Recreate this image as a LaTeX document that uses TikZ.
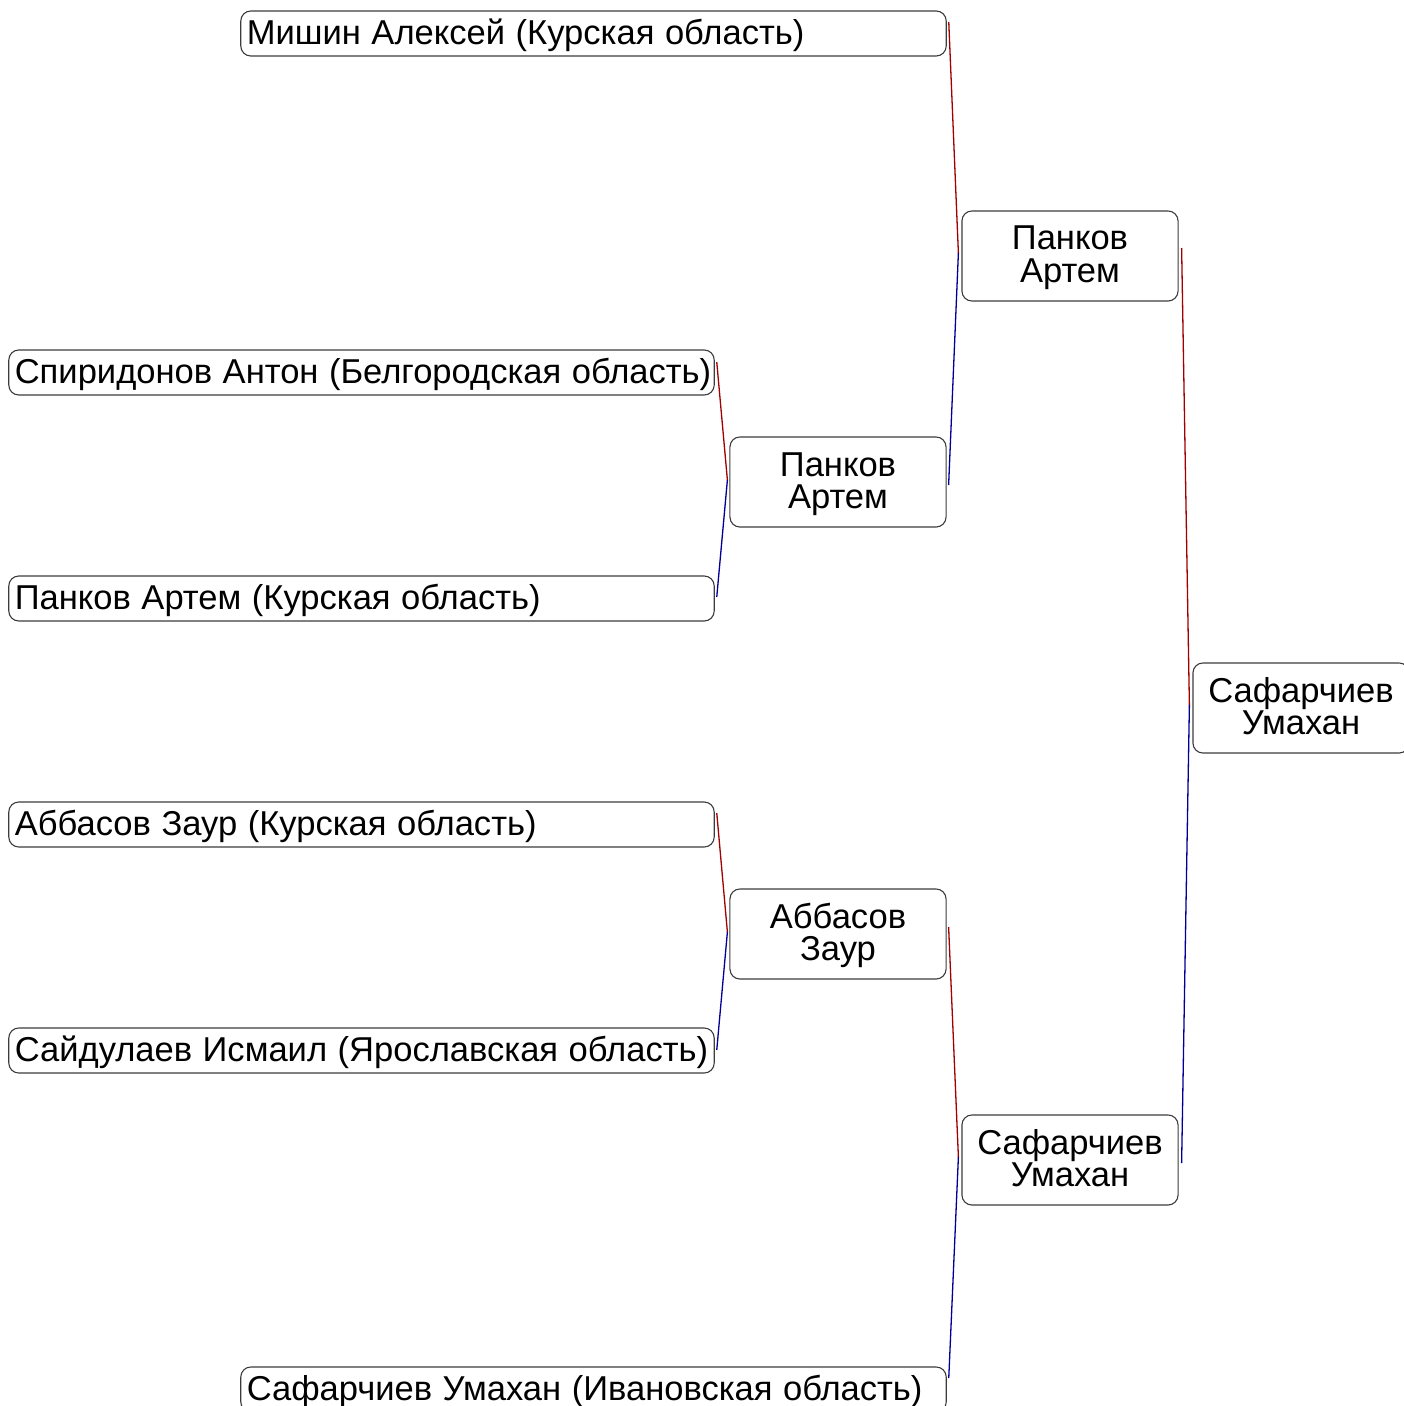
\documentclass[tikz,border=0pt]{standalone}
\usepackage{fontspec}
\setmainfont[WordSpace=1.1]{Liberation Sans}
\definecolor{boxgray}{RGB}{60,60,60}
\definecolor{winred}{RGB}{160,0,0}
\definecolor{loseblue}{RGB}{0,0,150}
\newcommand{\entrytext}[1]{\makebox[6.93cm][l]{#1}}
\begin{document}
\begin{tikzpicture}[x=0.01cm,y=-0.01cm,
  base/.style={draw=boxgray, line width=0.011cm, rounded corners=0.1cm, inner sep=0pt,
    font=\fontsize{9.82pt}{9.1pt}\selectfont},
  entrant/.style={base, minimum width=7.05cm, minimum height=0.45cm,
    text height=0.27cm, text depth=0.054cm},
  winner/.style={base, minimum width=2.16cm, minimum height=0.9cm,
    text width=2.1cm, align=center, text height=0.26cm, text depth=0.38cm},
  redline/.style={draw=winred, line width=0.013cm},
  blueline/.style={draw=loseblue, line width=0.013cm}]
\useasboundingbox (0,0) rectangle (1404,1406);
\clip (0,0) rectangle (1404,1406);
% first round entrants
\node[entrant] (m1) at (593.5,33.5) {\entrytext{Мишин Алексей (Курская область)}};
\node[entrant] (s1) at (361.5,372.5) {\entrytext{Спиридонов Антон (Белгородская область)}};
\node[entrant] (pl) at (361.5,598.5) {\entrytext{Панков Артем (Курская область)}};
\node[entrant] (al) at (361.5,824.5) {\entrytext{Аббасов Заур (Курская область)}};
\node[entrant] (sl) at (361.5,1050.5) {\entrytext{Сайдулаев Исмаил (Ярославская область)}};
\node[entrant] (sb) at (593.5,1389.5) {\entrytext{Сафарчиев Умахан (Ивановская область)}};
% winners
\node[winner] (r2a) at (838,482) {Панков\\Артем};
\node[winner] (r2b) at (838,934) {Аббасов\\Заур};
\node[winner] (r3a) at (1070,256) {Панков\\Артем};
\node[winner] (r3b) at (1070,1160) {Сафарчиев\\Умахан};
\node[winner] (fin) at (1301,708) {Сафарчиев\\Умахан};
% connectors
\draw[redline] ([xshift=0.02cm,yshift=0.105cm]s1.east) -- ([xshift=-0.02cm,yshift=0.02cm]r2a.west);
\draw[blueline] ([xshift=0.02cm,yshift=0.015cm]pl.east) -- ([xshift=-0.02cm,yshift=0.02cm]r2a.west);
\draw[redline] ([xshift=0.02cm,yshift=0.115cm]al.east) -- ([xshift=-0.02cm,yshift=0.02cm]r2b.west);
\draw[blueline] ([xshift=0.02cm,yshift=0.005cm]sl.east) -- ([xshift=-0.02cm,yshift=0.02cm]r2b.west);
\draw[redline] ([xshift=0.02cm,yshift=0.115cm]m1.east) -- ([xshift=-0.03cm,yshift=0.03cm]r3a.west);
\draw[blueline] ([xshift=0.02cm,yshift=-0.03cm]r2a.east) -- ([xshift=-0.03cm,yshift=0.03cm]r3a.west);
\draw[redline] ([xshift=0.02cm,yshift=0.07cm]r2b.east) -- ([xshift=-0.03cm,yshift=0.03cm]r3b.west);
\draw[blueline] ([xshift=0.02cm,yshift=0.115cm]sb.east) -- ([xshift=-0.03cm,yshift=0.03cm]r3b.west);
\draw[redline] ([xshift=0.03cm,yshift=0.08cm]r3a.east) -- ([xshift=-0.03cm,yshift=0.03cm]fin.west);
\draw[blueline] ([xshift=0.03cm,yshift=-0.03cm]r3b.east) -- ([xshift=-0.03cm,yshift=0.03cm]fin.west);
\end{tikzpicture}
\end{document}
